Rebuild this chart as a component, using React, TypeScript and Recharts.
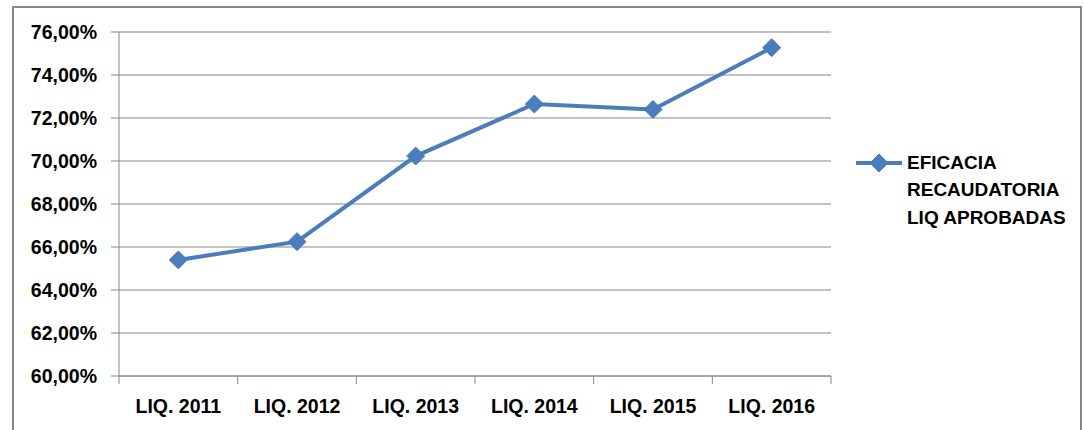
import React from 'react';
import { LineChart, Line, XAxis, YAxis, CartesianGrid, Legend } from 'recharts';

const categories = ['LIQ. 2011', 'LIQ. 2012', 'LIQ. 2013', 'LIQ. 2014', 'LIQ. 2015', 'LIQ. 2016'];
const eficacia = [65.4, 66.25, 70.23, 72.65, 72.4, 75.27];
const yTicks = [60, 62, 64, 66, 68, 70, 72, 74, 76];
const legendLines = ['EFICACIA', 'RECAUDATORIA', 'LIQ APROBADAS'];
const seriesName = legendLines.join(' ');

const data = categories.map((c, i) => ({ cat: c, value: eficacia[i] }));

const W = 1085;
const H = 430;
const PLOT_LEFT = 119;
const PLOT_RIGHT = 831;
const BAND = (PLOT_RIGHT - PLOT_LEFT) / categories.length;
const HALF = BAND / 2;
const LINE_COLOR = '#4A7EBB';
const GRID = '#868686';
const FONT = '"Liberation Sans", Arial, sans-serif';

const fmt = (v: number) => v.toFixed(2).replace('.', ',') + '%';

const Diamond = (props: any) => {
  const { cx, cy } = props;
  if (cx == null || cy == null) return null;
  const r = 9;
  return (
    <polygon
      points={`${cx},${cy - r} ${cx + r},${cy} ${cx},${cy + r} ${cx - r},${cy}`}
      fill={LINE_COLOR}
      stroke={LINE_COLOR}
      strokeWidth={1}
    />
  );
};

const XTick = (props: any) => {
  const { x, y, payload, index } = props;
  const axisY = y - 30;
  return (
    <g>
      <line x1={x - HALF} y1={axisY} x2={x - HALF} y2={axisY + 8} stroke={GRID} strokeWidth={1} />
      {index === categories.length - 1 && (
        <line x1={x + HALF} y1={axisY} x2={x + HALF} y2={axisY + 8} stroke={GRID} strokeWidth={1} />
      )}
      <text
        x={x}
        y={y}
        textAnchor="middle"
        dominantBaseline="central"
        fontFamily={FONT}
        fontWeight="bold"
        fontSize={19.5}
        fill="#000"
      >
        {payload.value}
      </text>
    </g>
  );
};

const LegendContent = () => (
  <svg width={235} height={95} style={{ overflow: 'visible' }}>
    <line x1={6} y1={18} x2={52} y2={18} stroke={LINE_COLOR} strokeWidth={4} />
    <Diamond cx={29} cy={18} />
    {legendLines.map((t, i) => (
      <text
        key={t}
        x={57}
        y={17 + i * 27.5}
        dominantBaseline="central"
        fontFamily={FONT}
        fontWeight="bold"
        fontSize={19}
        fill="#000"
      >
        {t}
      </text>
    ))}
  </svg>
);

export default function App() {
  return (
    <div
      style={{
        position: 'absolute',
        left: 0,
        top: 0,
        width: W,
        height: H,
        background: '#fff',
        overflow: 'hidden',
      }}
    >
      <div
        style={{
          position: 'absolute',
          left: 12,
          top: 6,
          width: 1066,
          height: 450,
          border: '2px solid #868686',
          borderBottom: 'none',
        }}
      />
      <div style={{ position: 'absolute', left: 0, top: 0 }}>
        <LineChart
          width={W}
          height={H}
          data={data}
          margin={{ top: 32, right: 24, bottom: 0, left: 19 }}
        >
          <CartesianGrid vertical={false} stroke={GRID} strokeWidth={1} />
          <XAxis
            dataKey="cat"
            height={54}
            padding={{ left: HALF, right: HALF }}
            axisLine={{ stroke: GRID, strokeWidth: 1 }}
            tickLine={false}
            tickSize={8}
            tickMargin={22}
            tick={<XTick />}
            interval={0}
          />
          <YAxis
            width={100}
            domain={[60, 76]}
            ticks={yTicks}
            tickFormatter={fmt}
            axisLine={{ stroke: GRID, strokeWidth: 1 }}
            tickLine={{ stroke: GRID, strokeWidth: 1 }}
            tickSize={8}
            tickMargin={14}
            tick={{ fontFamily: FONT, fontWeight: 'bold', fontSize: 19.5, fill: '#000' }}
            interval={0}
          />
          <Legend
            layout="vertical"
            align="right"
            verticalAlign="middle"
            width={230}
            content={<LegendContent />}
            wrapperStyle={{ left: 850, top: 145, right: 'auto', width: 230 }}
          />
          <Line
            type="linear"
            dataKey="value"
            name={seriesName}
            stroke={LINE_COLOR}
            strokeWidth={4}
            dot={<Diamond />}
            activeDot={false}
            isAnimationActive={false}
          />
        </LineChart>
      </div>
    </div>
  );
}
